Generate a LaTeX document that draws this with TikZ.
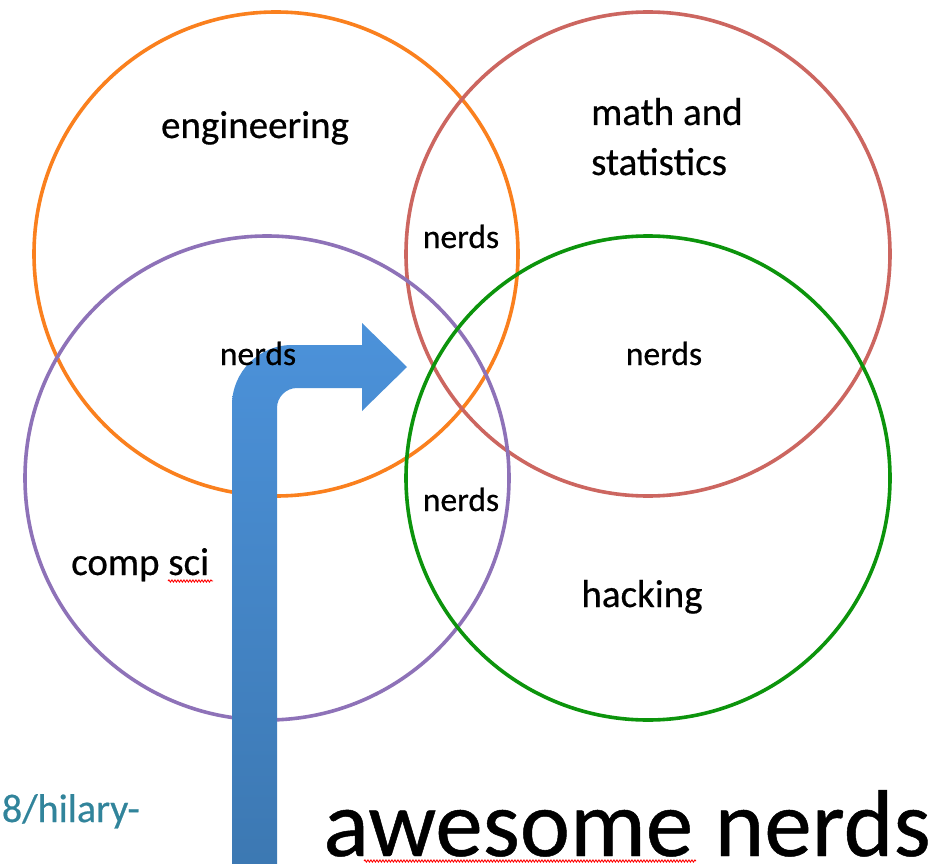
\documentclass[tikz,border=0pt]{standalone}
\usepackage{fontspec}
\setmainfont{Carlito}[FakeBold=0.5]
\usetikzlibrary{decorations.pathmorphing}
\definecolor{orangec}{RGB}{250,128,30}
\definecolor{redc}{RGB}{204,102,96}
\definecolor{purplec}{RGB}{142,114,184}
\definecolor{greenc}{RGB}{12,148,12}
\definecolor{arrowtop}{RGB}{76,146,218}
\definecolor{arrowbot}{RGB}{60,120,178}
\definecolor{tealc}{RGB}{49,132,155}
\tikzset{
  ring/.style={circle, draw=#1, line width=3.6pt, minimum size=484pt, inner sep=0pt},
  lbl/.style={font=\fontsize{39}{47}\selectfont, inner sep=0pt, anchor=base},
  lblw/.style={font=\fontsize{39}{47}\selectfont, inner sep=0pt, anchor=base west},
  nerd/.style={font=\fontsize{33.5}{40}\selectfont, inner sep=0pt, anchor=base},
  squig/.style={draw=red, line width=0.9pt, decorate, decoration={snake, amplitude=1.1pt, segment length=3pt}}
}
\begin{document}
\begin{tikzpicture}[x=1pt,y=-1pt]
\useasboundingbox (0,0) rectangle (948,864);
\fill[white] (0,0) rectangle (948,864);
\begin{scope}
\clip (0,0) rectangle (948,864);
% circles
\node[ring=orangec] (eng) at (276,254) {};
\node[ring=redc] (math) at (648,254) {};
\node[ring=purplec] (comp) at (267,478) {};
\node[ring=greenc] (hack) at (648,478) {};
% arrow
\path[top color=arrowtop, bottom color=arrowbot]
  (232,870) -- (232,405) .. controls (232,371.9) and (258.9,345) .. (292,345)
  -- (362,345) -- (362,323) -- (407,367) -- (362,411) -- (362,388)
  -- (297,388) .. controls (286,388) and (277,397) .. (277,408)
  -- (277,870) -- cycle;
% labels
\node[lbl] (tEng) at (255,138) {engineering};
\node[lblw] (tMath1) at (591,125) {math and};
\node[lblw] (tMath2) at (591,175) {statistics};
\node[lblw] (tComp) at (71,575) {comp sci};
\node[lbl] (tHack) at (642,607) {hacking};
\node[nerd] (n1) at (461,248) {nerds};
\node[nerd] (n2) at (258,365) {nerds};
\node[nerd] (n3) at (664,365) {nerds};
\node[nerd] (n4) at (461,511) {nerds};
\node[font=\fontsize{95}{110}\selectfont, inner sep=0pt, anchor=base] (tAw) at (627,856) {awesome nerds};
\node[font=\fontsize{40}{48}\selectfont, inner sep=0pt, anchor=base east, text=tealc] (tUrl) at (140,822) {8/hilary-};
% spell-check squiggles
\coordinate (sq1a) at (168,581);
\coordinate (sq1b) at (213,581);
\draw[squig] (sq1a) -- (sq1b);
\coordinate (sq2a) at (364,861);
\coordinate (sq2b) at (696,861);
\draw[squig] (sq2a) -- (sq2b);
\end{scope}
\end{tikzpicture}
\end{document}
